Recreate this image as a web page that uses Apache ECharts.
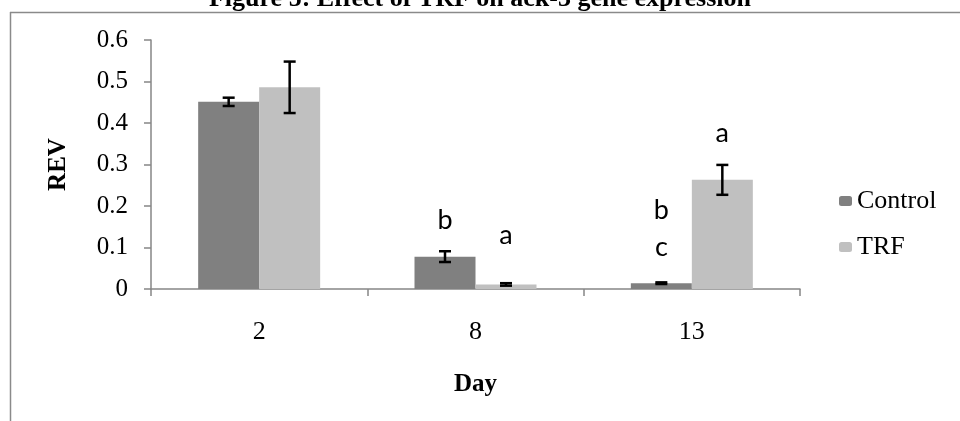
<!DOCTYPE html>
<html>
<head>
<meta charset="utf-8">
<script src="https://cdn.jsdelivr.net/npm/echarts@6/dist/echarts.min.js"></script>
<style>html,body{margin:0;padding:0;background:#fff}#c{width:960px;height:421px}</style>
</head>
<body>
<div id="c"></div>
<script>
var titleText = 'Figure 5: Effect of TRF on ack-3 gene expression';
var categories = ['2', '8', '13'];
var seriesNames = ['Control', 'TRF'];
var controlValues = [0.451, 0.078, 0.014];
var trfValues = [0.486, 0.011, 0.263];
var controlErrors = [0.010, 0.013, 0.002];
var trfErrors = [0.062, 0.003, 0.036];
// significance letters: [categoryIndex, seriesIndex, yPosition, letter]
var letters = [
  [1, 0, 0.166, 'b'],
  [1, 1, 0.130, 'a'],
  [2, 0, 0.190, 'b'],
  [2, 0, 0.101, 'c'],
  [2, 1, 0.376, 'a']
];
var yTicks = { min: 0, max: 0.6, interval: 0.1 };

var BAR_W = 61;
var serif = '"Liberation Serif", "Times New Roman", serif';

function errData(vals, errs, s) {
  return vals.map(function (v, i) { return [i, v - errs[i], v + errs[i], s]; });
}

var chart = echarts.init(document.getElementById('c'), null, { renderer: 'canvas' });

function renderErr(params, api) {
  var s = api.value(3);
  var off = (s === 0 ? -1 : 1) * BAR_W / 2;
  var lo = api.coord([api.value(0), api.value(1)]);
  var hi = api.coord([api.value(0), api.value(2)]);
  var x = lo[0] + off;
  var cap = 6;
  var st = { stroke: '#000', lineWidth: 2.5 };
  return {
    type: 'group',
    children: [
      { type: 'line', shape: { x1: x, y1: lo[1], x2: x, y2: hi[1] }, style: st },
      { type: 'line', shape: { x1: x - cap, y1: lo[1], x2: x + cap, y2: lo[1] }, style: st },
      { type: 'line', shape: { x1: x - cap, y1: hi[1], x2: x + cap, y2: hi[1] }, style: st }
    ]
  };
}

function renderLetter(params, api) {
  var s = api.value(1);
  var off = (s === 0 ? -1 : 1) * BAR_W / 2;
  var p = api.coord([api.value(0), api.value(2)]);
  var d = letters[params.dataIndex];
  return {
    type: 'text',
    x: p[0] + off,
    y: p[1],
    style: {
      text: d[3],
      fill: '#000',
      font: '27px Lato, "Open Sans", sans-serif',
      textAlign: 'center',
      textVerticalAlign: 'middle'
    }
  };
}

chart.setOption({
  animation: false,
  backgroundColor: '#fff',
  title: {
    text: titleText,
    left: 'center',
    top: -19,
    textStyle: { fontFamily: serif, fontWeight: 'bold', fontSize: 26, color: '#000' }
  },
  graphic: [
    { type: 'line', shape: { x1: 10, y1: 12.5, x2: 960, y2: 12.5 }, style: { stroke: '#8a8a8a', lineWidth: 1.5 }, z: 100 },
    { type: 'line', shape: { x1: 10.5, y1: 12, x2: 10.5, y2: 421 }, style: { stroke: '#8a8a8a', lineWidth: 1.5 }, z: 100 }
  ],
  legend: {
    orient: 'vertical',
    left: 839,
    top: 188,
    padding: 0,
    itemWidth: 13,
    itemHeight: 10,
    itemGap: 20,
    data: seriesNames,
    textStyle: { fontFamily: serif, fontSize: 26, color: '#000', lineHeight: 26 }
  },
  grid: { left: 151, right: 160, top: 40, bottom: 132 },
  xAxis: {
    type: 'category',
    data: categories,
    name: 'Day',
    nameLocation: 'middle',
    nameGap: 83,
    nameTextStyle: { fontFamily: serif, fontWeight: 'bold', fontSize: 25, color: '#000' },
    axisLine: { lineStyle: { color: '#868686', width: 1.5 } },
    axisTick: { show: true, length: 7, lineStyle: { color: '#868686', width: 1.5 } },
    axisLabel: { margin: 30, fontFamily: serif, fontSize: 26, color: '#000' }
  },
  yAxis: {
    type: 'value',
    min: yTicks.min,
    max: yTicks.max,
    interval: yTicks.interval,
    name: 'REV',
    nameLocation: 'middle',
    nameGap: 80,
    nameTextStyle: { fontFamily: serif, fontWeight: 'bold', fontSize: 25, color: '#000' },
    axisLine: { show: true, lineStyle: { color: '#868686', width: 1.5 } },
    axisTick: { show: true, length: 7, lineStyle: { color: '#868686', width: 1.5 } },
    splitLine: { show: false },
    axisLabel: { margin: 23, fontFamily: serif, fontSize: 25, color: '#000' }
  },
  series: [
    { name: seriesNames[0], type: 'bar', data: controlValues, barWidth: BAR_W, barGap: '0%', itemStyle: { color: '#808080' } },
    { name: seriesNames[1], type: 'bar', data: trfValues, barWidth: BAR_W, barGap: '0%', itemStyle: { color: '#c0c0c0' } },
    { type: 'custom', renderItem: renderErr, data: errData(controlValues, controlErrors, 0), z: 10, encode: { x: 0, y: [1, 2] } },
    { type: 'custom', renderItem: renderErr, data: errData(trfValues, trfErrors, 1), z: 10, encode: { x: 0, y: [1, 2] } },
    { type: 'custom', renderItem: renderLetter, data: letters, z: 10, encode: { x: 0, y: 2 } }
  ]
});
</script>
</body>
</html>
